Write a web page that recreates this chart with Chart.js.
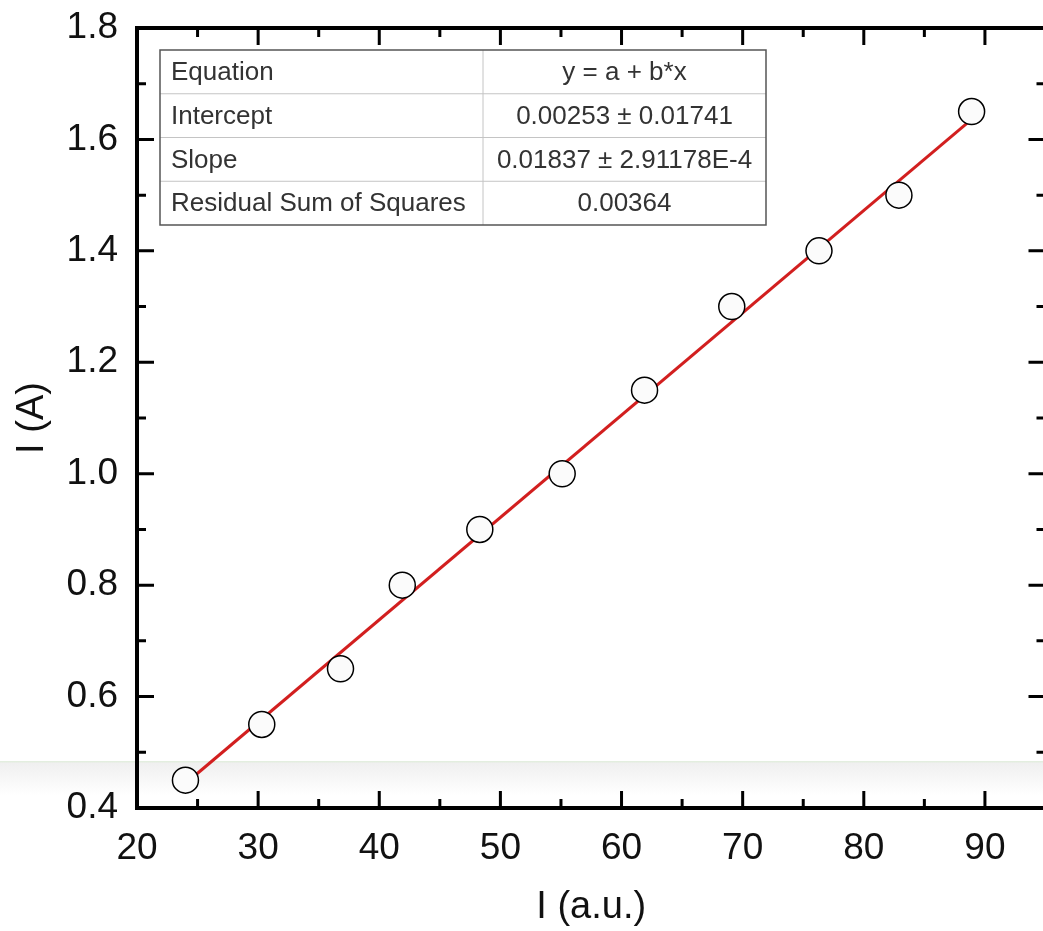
<!DOCTYPE html>
<html>
<head>
<meta charset="utf-8">
<script src="https://cdn.jsdelivr.net/npm/chart.js@4.4.0/dist/chart.umd.min.js"></script>
<style>
html,body{margin:0;padding:0;background:#fff;overflow:hidden}
#wrap{width:1060px;height:931px}
</style>
</head>
<body>
<div id="wrap"><canvas id="chart" width="1060" height="931"></canvas></div>
<script>
// measured points
const xValues=[24.0,30.3,36.8,41.9,48.3,55.1,61.9,69.1,76.3,82.9,88.9]
const yValues=[0.45,0.55,0.65,0.80,0.90,1.00,1.15,1.30,1.40,1.50,1.65]
// fitted line ends
const fitX=[24.0,88.9]
const fitY=[0.444,1.636]

const xTicks=[20,30,40,50,60,70,80,90]
const yTicks=[0.4,0.6,0.8,1.0,1.2,1.4,1.6,1.8]
const xMinor=[25,35,45,55,65,75,85,95]
const yMinor=[0.5,0.7,0.9,1.1,1.3,1.5,1.7]

const tableNames=["Equation","Intercept","Slope","Residual Sum of Squares"]
const tableValues=["y = a + b*x","0.00253 \u00b1 0.01741","0.01837 \u00b1 2.91178E-4","0.00364"]

const FONT='"Liberation Sans", Arial, sans-serif'

const pts=xValues.map((x,i)=>({x:x,y:yValues[i]}))
const fitPts=fitX.map((x,i)=>({x:x,y:fitY[i]}))

// faint screenshot band behind the plot
const bandPlugin={
    id:"band",
    beforeDraw(chart){
        const ctx=chart.ctx
        ctx.save()
        const g=ctx.createLinearGradient(0,762,0,795)
        g.addColorStop(0,"#efefef")
        g.addColorStop(1,"#ffffff")
        ctx.fillStyle=g
        ctx.fillRect(0,762,chart.width,33)
        ctx.fillStyle="#e3eedf"
        ctx.fillRect(0,761,chart.width,1.5)
        ctx.restore()
    }
}

const framePlugin={
    id:"frame",
    afterDraw(chart){
        const ctx=chart.ctx
        const a=chart.chartArea
        const xs=chart.scales.x
        const ys=chart.scales.y
        ctx.save()
        ctx.strokeStyle="#000"
        ctx.lineWidth=3
        const major=17, minor=9
        xTicks.concat(xMinor).forEach((v,i)=>{
            const len=i<xTicks.length?major:minor
            const px=xs.getPixelForValue(v)
            ctx.beginPath()
            ctx.moveTo(px,a.bottom);ctx.lineTo(px,a.bottom-len)
            ctx.moveTo(px,a.top);ctx.lineTo(px,a.top+len)
            ctx.stroke()
        })
        yTicks.concat(yMinor).forEach((v,i)=>{
            const len=i<yTicks.length?major:minor
            const py=ys.getPixelForValue(v)
            ctx.beginPath()
            ctx.moveTo(a.left,py);ctx.lineTo(a.left+len,py)
            ctx.moveTo(a.right,py);ctx.lineTo(a.right-len,py)
            ctx.stroke()
        })
        ctx.lineWidth=4
        ctx.strokeRect(a.left,a.top,a.right-a.left,a.bottom-a.top)

        // axis titles
        ctx.fillStyle="#111"
        ctx.font="38px "+FONT
        ctx.textAlign="center"
        ctx.textBaseline="middle"
        ctx.fillText("I (a.u.)",(a.left+a.right)/2,908)
        ctx.translate(33,(a.top+a.bottom)/2)
        ctx.rotate(-Math.PI/2)
        ctx.fillText("I (A)",0,0)
        ctx.restore()

        // fit table
        ctx.save()
        const tL=160,tR=766,tT=50,tB=225,tMid=483
        const rowH=(tB-tT)/tableNames.length
        ctx.fillStyle="#fff"
        ctx.fillRect(tL,tT,tR-tL,tB-tT)
        ctx.strokeStyle="#c4c4c4"
        ctx.lineWidth=1
        for(let i=1;i<tableNames.length;i++){
            ctx.beginPath()
            ctx.moveTo(tL,tT+rowH*i);ctx.lineTo(tR,tT+rowH*i)
            ctx.stroke()
        }
        ctx.beginPath()
        ctx.moveTo(tMid,tT);ctx.lineTo(tMid,tB)
        ctx.stroke()
        ctx.strokeStyle="#555"
        ctx.lineWidth=1.5
        ctx.strokeRect(tL,tT,tR-tL,tB-tT)
        ctx.fillStyle="#333"
        ctx.font="26px "+FONT
        ctx.textBaseline="middle"
        tableNames.forEach((t,i)=>{
            const cy=tT+rowH*(i+0.5)+1
            ctx.textAlign="left"
            ctx.fillText(t,tL+11,cy)
            ctx.textAlign="center"
            ctx.fillText(tableValues[i],(tMid+tR)/2,cy)
        })
        ctx.restore()
    }
}

const ctxChart=document.querySelector("#chart").getContext("2d")

const chart=new Chart(ctxChart,{
    type:"scatter",
    data:{
        datasets:[
            {
                label:"Fit",
                type:"line",
                data:fitPts,
                borderColor:"#d21f1f",
                borderWidth:3,
                pointRadius:0,
                fill:false,
                order:2,
            },
            {
                label:"Data",
                data:pts,
                pointRadius:13,
                pointBackgroundColor:"#fbfbfb",
                pointBorderColor:"#000",
                pointBorderWidth:1.5,
                order:1,
            },
        ],
    },
    options:{
        responsive:false,
        animation:false,
        layout:{padding:{left:0,top:28,right:10,bottom:0}},
        plugins:{legend:{display:false},tooltip:{enabled:false}},
        scales:{
            x:{
                type:"linear",
                min:20,
                max:95,
                grid:{display:false,drawTicks:false},
                border:{display:false},
                afterBuildTicks(s){s.ticks=xTicks.map(v=>({value:v}))},
                afterFit(s){s.height=123;s.paddingLeft=0;s.paddingRight=0},
                ticks:{
                    color:"#111",
                    font:{family:FONT,size:37},
                    padding:19,
                    maxRotation:0,
                    callback:v=>String(v),
                },
            },
            y:{
                type:"linear",
                min:0.4,
                max:1.8,
                grid:{display:false,drawTicks:false},
                border:{display:false},
                afterBuildTicks(s){s.ticks=yTicks.map(v=>({value:v}))},
                afterFit(s){s.width=137;s.paddingTop=0;s.paddingBottom=0},
                ticks:{
                    color:"#111",
                    font:{family:FONT,size:37},
                    padding:19,
                    callback:v=>Number(v).toFixed(1),
                },
            },
        },
    },
    plugins:[bandPlugin,framePlugin],
})
</script>
</body>
</html>
